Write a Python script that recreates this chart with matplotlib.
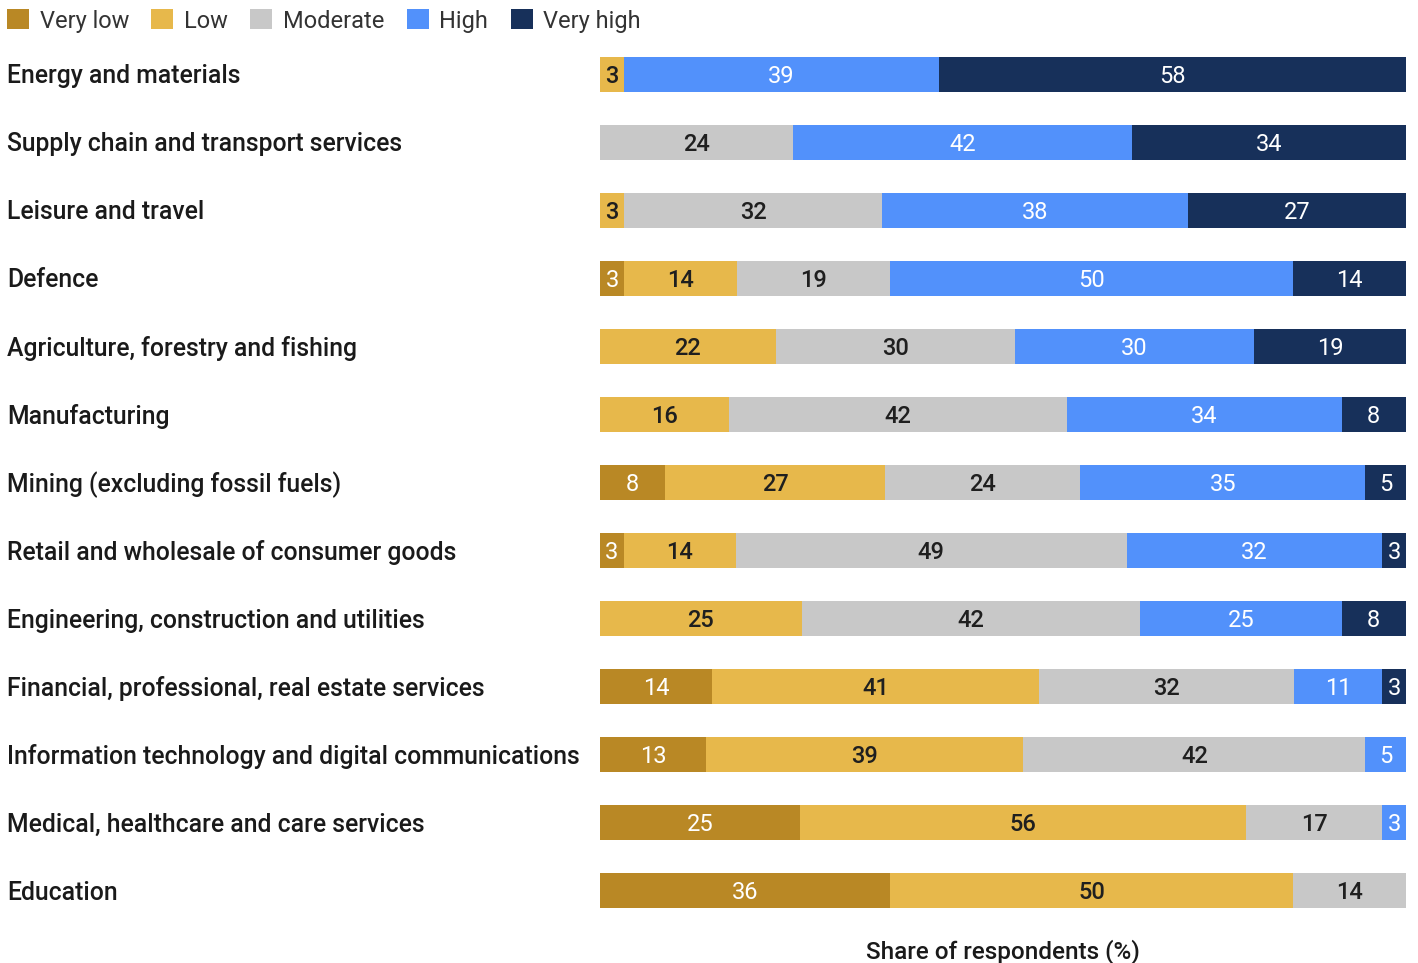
import numpy as np
import matplotlib
matplotlib.use("Agg")
import matplotlib.pyplot as plt
from matplotlib.patches import Patch
from matplotlib.transforms import ScaledTranslation

plt.rcParams['font.family'] = ['Roboto', 'Liberation Sans', 'DejaVu Sans']

sectors = [
    "Energy and materials",
    "Supply chain and transport services",
    "Leisure and travel",
    "Defence",
    "Agriculture, forestry and fishing",
    "Manufacturing",
    "Mining (excluding fossil fuels)",
    "Retail and wholesale of consumer goods",
    "Engineering, construction and utilities",
    "Financial, professional, real estate services",
    "Information technology and digital communications",
    "Medical, healthcare and care services",
    "Education",
]
levels = ["Very low", "Low", "Moderate", "High", "Very high"]

very_low  = [0, 0, 0, 3, 0, 0, 8, 3, 0, 14, 13, 25, 36]
low       = [3, 0, 3, 14, 22, 16, 27, 14, 25, 41, 39, 56, 50]
moderate  = [0, 24, 32, 19, 30, 42, 24, 49, 42, 32, 42, 17, 14]
high      = [39, 42, 38, 50, 30, 34, 35, 32, 25, 11, 5, 3, 0]
very_high = [58, 34, 27, 14, 19, 8, 5, 3, 8, 3, 0, 0, 0]

colors = ["#B98825", "#E7B84B", "#C8C8C8", "#5291FB", "#17305A"]
text_colors = ["white", "#1f1f1f", "#1f1f1f", "white", "white"]
text_weights = ["normal", "medium", "medium", "normal", "normal"]

data = np.array([very_low, low, moderate, high, very_high], dtype=float)
totals = data.sum(axis=0)
shares = data / totals * 100  # each row spans the full 100 %

fig = plt.figure(figsize=(14.18, 9.63), dpi=100)
ax = fig.add_axes([600 / 1418, 38 / 963, 806 / 1418, 885 / 963])
nudge = ScaledTranslation(0, -2.0 / 100, fig.dpi_scale_trans)

y = np.arange(len(sectors))
left = np.zeros(len(sectors))
for i, lvl in enumerate(levels):
    bars = ax.barh(y, shares[i], left=left, height=0.515, color=colors[i],
                   edgecolor="none", label=lvl)
    for j, b in enumerate(bars):
        v = data[i, j]
        if v > 0:
            ax.text(b.get_x() + b.get_width() / 2, b.get_y() + b.get_height() / 2,
                    f"{int(v)}", ha="center", va="center", fontsize=17,
                    color=text_colors[i], fontweight=text_weights[i],
                    transform=ax.transData + nudge)
    left += shares[i]

ax.set_xlim(0, 100)
ax.set_ylim(len(sectors) - 0.5, -0.5)
ax.set_yticks([])
ax.set_xticks([])
for s in ax.spines.values():
    s.set_visible(False)

label_x = (7 - 600) / 806 * 100
for j, name in enumerate(sectors):
    ax.text(label_x, j, name, ha="left", va="center",
            fontsize=17.8, color="#1a1a1a", fontweight="medium",
            transform=ax.transData + nudge, clip_on=False)

ax.set_xlabel("Share of respondents (%)", fontsize=17.5, color="#1a1a1a",
              fontweight="medium", labelpad=10)

handles = [Patch(facecolor=c, edgecolor="none", label=l) for c, l in zip(colors, levels)]
fig.legend(handles=handles, loc="upper left", bbox_to_anchor=(-0.005, 1.005), ncol=5,
           frameon=False, handlelength=0.93, handleheight=0.93,
           handletextpad=0.45, columnspacing=0.95, borderaxespad=0.2,
           labelcolor="#333333", prop={"weight": "normal", "size": 17})

fig.savefig("out.png", dpi=100, facecolor="white")
